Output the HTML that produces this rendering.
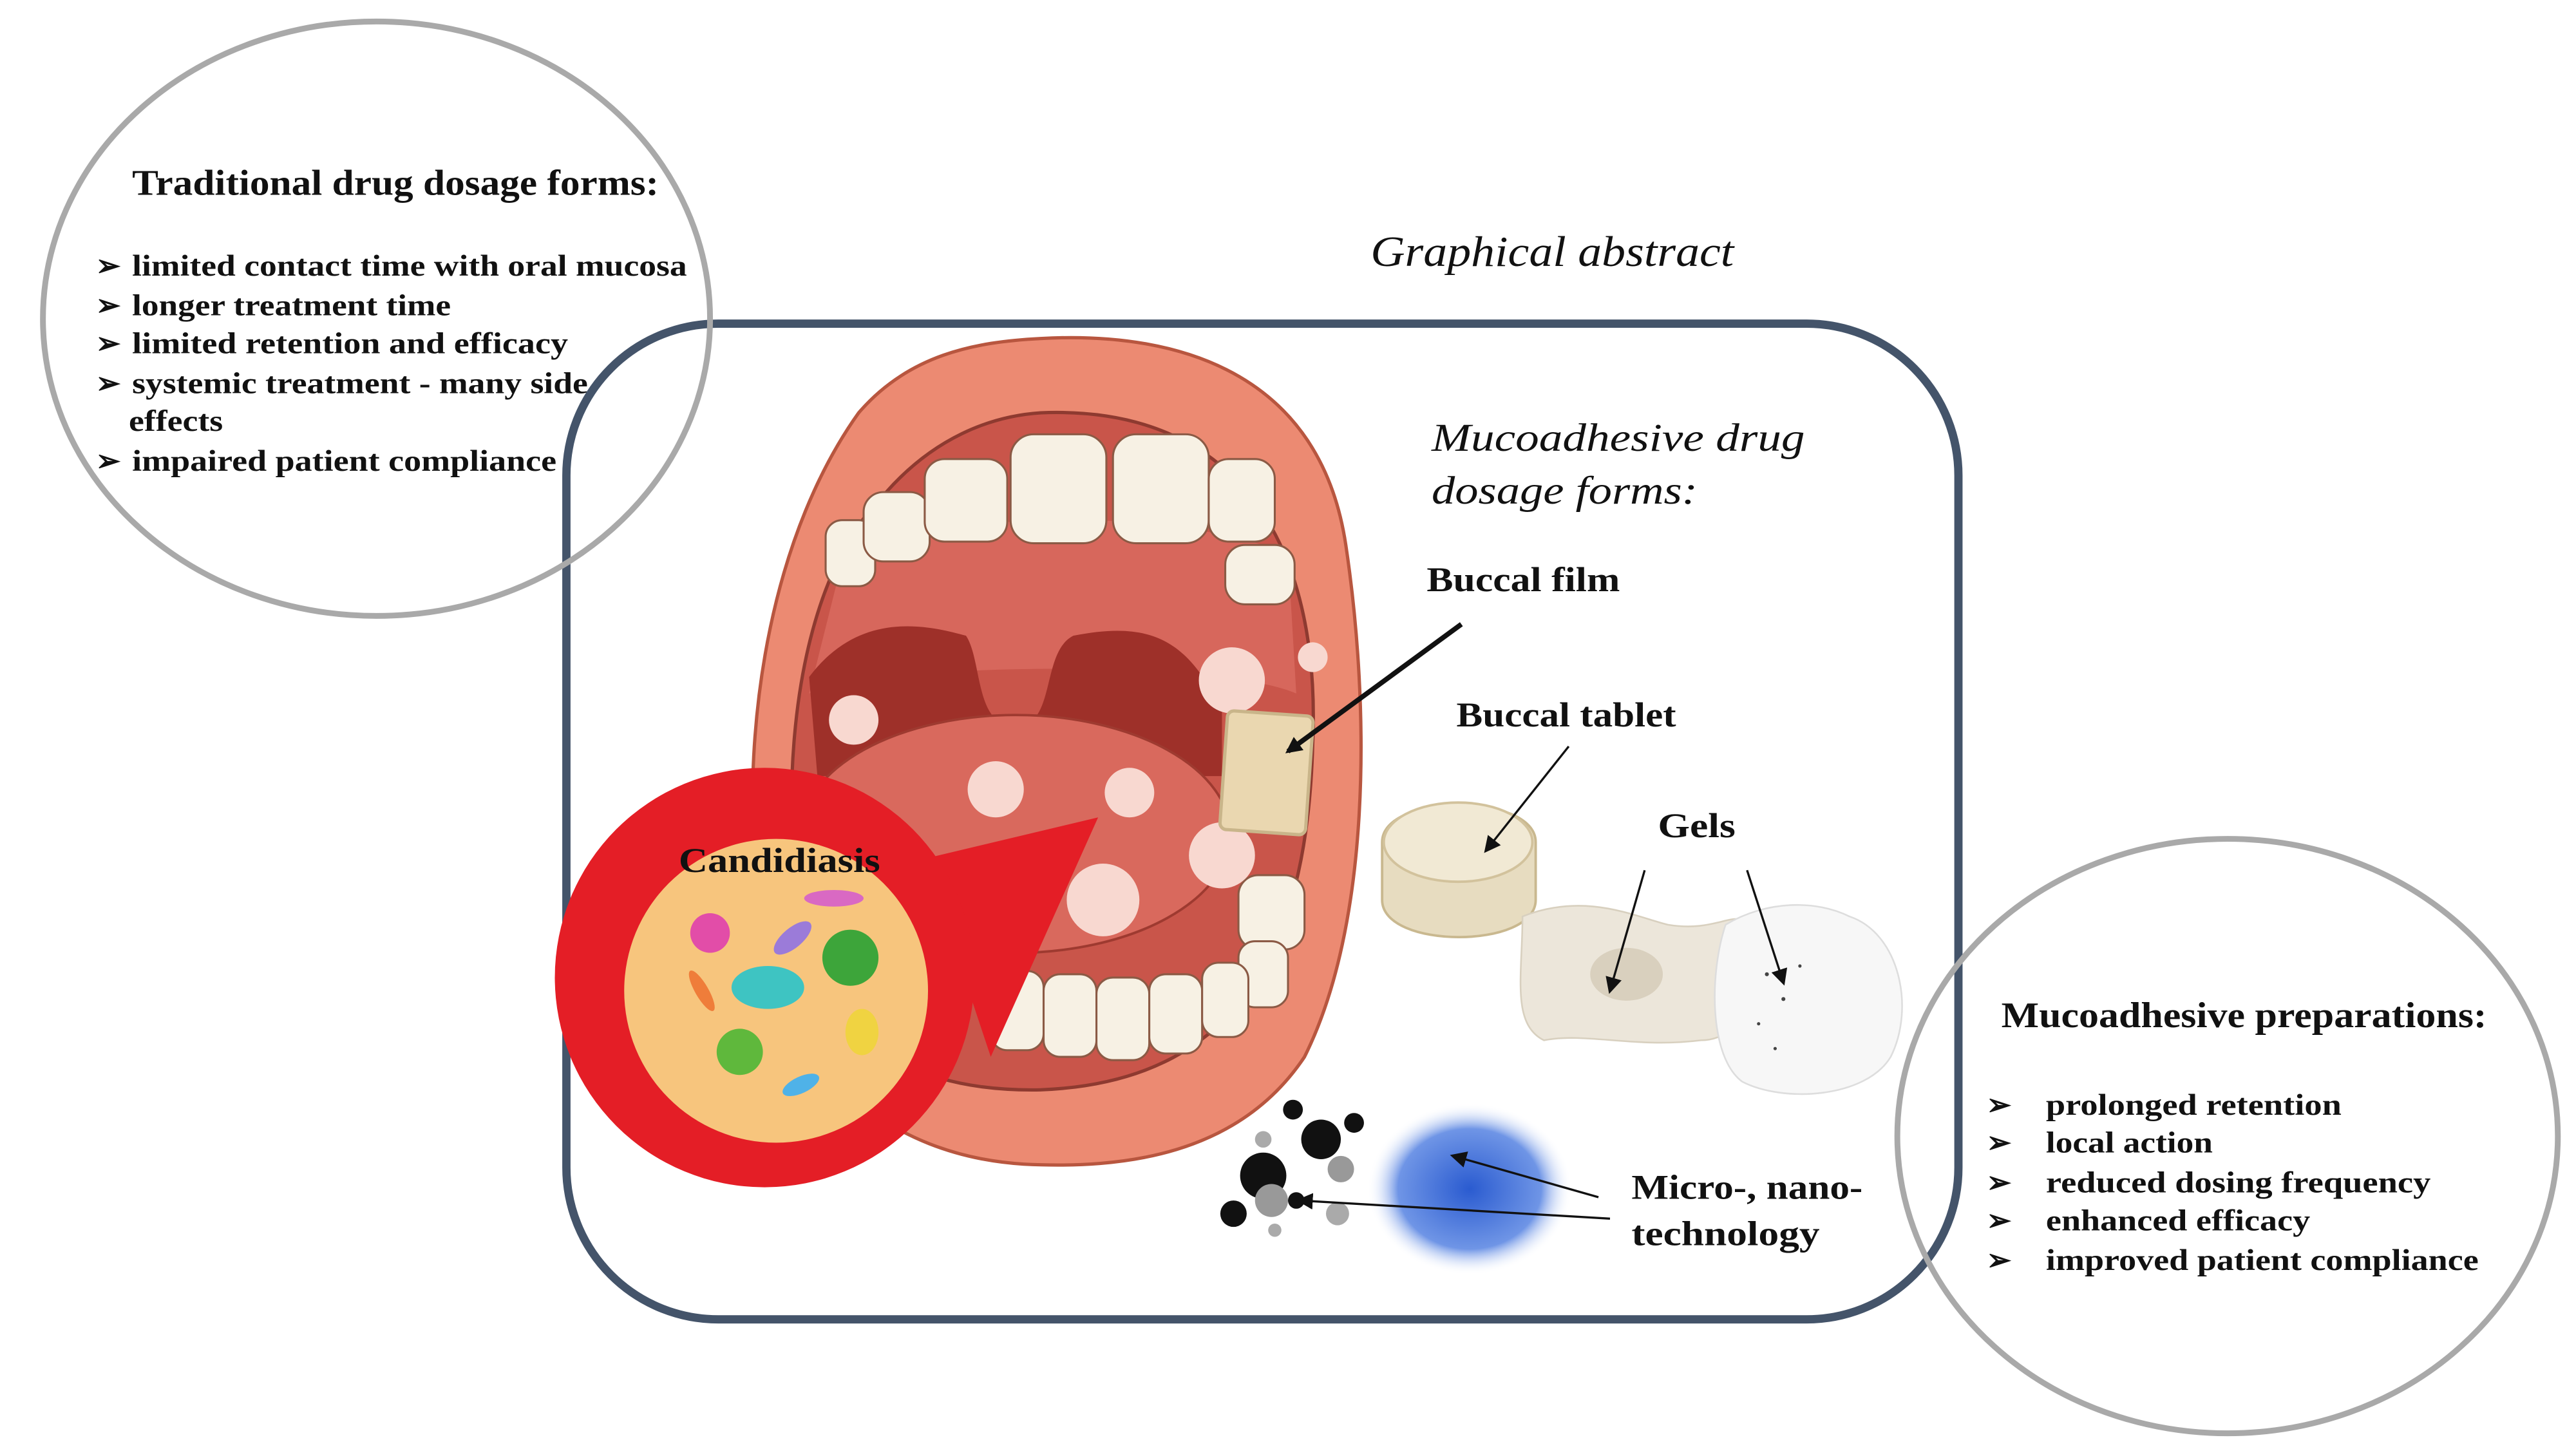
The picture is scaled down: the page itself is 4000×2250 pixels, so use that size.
<!DOCTYPE html>
<html><head><meta charset="utf-8"><style>
html,body{margin:0;padding:0;background:#fff;width:4000px;height:2250px;overflow:hidden}
svg{display:block}
text{font-family:"Liberation Serif",serif;fill:#111}
.b{font-weight:bold}
</style></head><body>
<svg width="4000" height="2250" viewBox="0 0 1560 877.5" xmlns="http://www.w3.org/2000/svg">
<defs>
<marker id="ah" markerWidth="10" markerHeight="10" refX="8" refY="5" orient="auto" markerUnits="userSpaceOnUse"><path d="M0,0 L10,5 L0,10 z" fill="#111"/></marker>
<radialGradient id="bl" cx="50%" cy="50%" r="50%"><stop offset="0" stop-color="#2a5bd0"/><stop offset="0.7" stop-color="#6f95e6"/><stop offset="1" stop-color="#fff" stop-opacity="0"/></radialGradient>
</defs>
<rect x="343" y="196" width="843" height="603" rx="92" fill="#fff" stroke="#44546a" stroke-width="5"/>
<text x="830" y="161" font-size="26" font-style="italic" textLength="220" lengthAdjust="spacingAndGlyphs">Graphical abstract</text>

<!-- mouth -->
<path d="M630,205 C720,200 800,230 815,330 C830,430 830,560 790,640 C750,700 680,708 620,705 C540,700 470,650 458,540 C448,430 470,320 520,250 C550,215 590,207 630,205z" fill="#ec8a72" stroke="#b8563f" stroke-width="2"/>
<path d="M630,250 C750,245 800,330 795,450 C792,560 760,655 630,660 C520,662 485,600 480,520 C475,420 495,340 535,300 C565,265 600,252 630,250z" fill="#c9554a" stroke="#8e3a30" stroke-width="2"/>
<path d="M510,340 C560,310 700,305 780,335 L785,420 C740,400 540,400 490,420z" fill="#d7675c"/>
<path d="M490,410 C520,370 560,378 585,385 C595,400 590,440 615,440 C640,440 630,395 650,385 C700,375 720,390 740,430 L740,470 L495,470z" fill="#9e3029"/>
<ellipse cx="615" cy="505" rx="130" ry="72" fill="#d9695d" stroke="#9e3a30" stroke-width="1.5"/>
<g fill="#f7f1e4" stroke="#8b5a45" stroke-width="1.2">
<rect x="500" y="315" width="30" height="40" rx="10"/>
<rect x="523" y="298" width="40" height="42" rx="12"/>
<rect x="560" y="278" width="50" height="50" rx="12"/>
<rect x="612" y="263" width="58" height="66" rx="14"/>
<rect x="674" y="263" width="58" height="66" rx="14"/>
<rect x="732" y="278" width="40" height="50" rx="12"/>
<rect x="742" y="330" width="42" height="36" rx="12"/>
<rect x="750" y="530" width="40" height="45" rx="12"/>
<rect x="750" y="570" width="30" height="40" rx="10"/>
<rect x="600" y="588" width="32" height="48" rx="10"/>
<rect x="632" y="590" width="32" height="50" rx="10"/>
<rect x="664" y="592" width="32" height="50" rx="10"/>
<rect x="696" y="590" width="32" height="48" rx="10"/>
<rect x="728" y="583" width="28" height="45" rx="10"/>
</g>
<g fill="#f8d8d0">
<circle cx="517" cy="436" r="15"/><circle cx="603" cy="478" r="17"/><circle cx="684" cy="480" r="15"/>
<circle cx="668" cy="545" r="22"/><circle cx="746" cy="412" r="20"/><circle cx="795" cy="398" r="9"/><circle cx="740" cy="518" r="20"/>
</g>
<rect x="741" y="432" width="52" height="72" rx="4" fill="#ead7b0" stroke="#c9b58a" stroke-width="2" transform="rotate(4 767 468)"/>

<path d="M560,520 L665,495 L600,640z" fill="#e41e26"/>
<circle cx="463" cy="592" r="127" fill="#e41e26"/>
<circle cx="470" cy="600" r="92" fill="#f7c57d"/>
<g>
<circle cx="515" cy="580" r="17" fill="#3da53a"/><circle cx="448" cy="637" r="14" fill="#5fb83c"/>
<ellipse cx="465" cy="598" rx="22" ry="13" fill="#3ec4c2"/><circle cx="430" cy="565" r="12" fill="#e24da8"/>
<ellipse cx="480" cy="568" rx="14" ry="6" fill="#9b7bd9" transform="rotate(-40 480 568)"/>
<ellipse cx="505" cy="544" rx="18" ry="5" fill="#d969c3"/>
<ellipse cx="522" cy="625" rx="10" ry="14" fill="#f0d341"/>
<ellipse cx="485" cy="657" rx="12" ry="5" fill="#4fb2e8" transform="rotate(-25 485 657)"/>
<ellipse cx="425" cy="600" rx="4" ry="14" fill="#ef7d3a" transform="rotate(-30 425 600)"/>
</g>
<text x="411" y="528" font-size="21" class="b" textLength="122" lengthAdjust="spacingAndGlyphs">Candidiasis</text>

<text x="867" y="273" font-size="24" font-style="italic" textLength="226" lengthAdjust="spacingAndGlyphs">Mucoadhesive drug</text>
<text x="867" y="305" font-size="24" font-style="italic" textLength="161" lengthAdjust="spacingAndGlyphs">dosage forms:</text>
<text x="864" y="358" font-size="21" class="b" textLength="117" lengthAdjust="spacingAndGlyphs">Buccal film</text>
<text x="882" y="440" font-size="21" class="b" textLength="133" lengthAdjust="spacingAndGlyphs">Buccal tablet</text>
<text x="1004" y="507" font-size="21" class="b" textLength="47" lengthAdjust="spacingAndGlyphs">Gels</text>
<text x="988" y="726" font-size="21" class="b" textLength="140" lengthAdjust="spacingAndGlyphs">Micro-, nano-</text>
<text x="988" y="754" font-size="21" class="b" textLength="114" lengthAdjust="spacingAndGlyphs">technology</text>

<path d="M837,510 C837,480 930,480 930,510 L930,545 C930,575 837,575 837,545z" fill="#e7dcc0" stroke="#c9b88f" stroke-width="1.5"/>
<ellipse cx="883" cy="510" rx="45" ry="24" fill="#f1e9d4" stroke="#d2c29c" stroke-width="1.5"/>
<path d="M922,555 C960,540 990,555 1010,560 C1040,565 1050,550 1060,560 C1070,600 1055,630 1030,630 C990,635 960,625 935,630 C915,620 922,590 922,555z" fill="#ece6da" stroke="#d8d0bf"/>
<ellipse cx="985" cy="590" rx="22" ry="16" fill="#d9d0be"/>
<path d="M1045,560 C1070,545 1100,545 1120,555 C1150,565 1160,610 1145,640 C1130,665 1080,668 1055,655 C1035,640 1035,590 1045,560z" fill="#f7f7f7" stroke="#ddd"/>
<g fill="#444"><circle cx="1070" cy="590" r="1.2"/><circle cx="1080" cy="605" r="1.2"/><circle cx="1065" cy="620" r="1"/><circle cx="1090" cy="585" r="1"/><circle cx="1075" cy="635" r="1"/></g>
<ellipse cx="890" cy="720" rx="62" ry="52" fill="url(#bl)"/>
<g><circle cx="800" cy="690" r="12" fill="#111"/><circle cx="783" cy="672" r="6" fill="#111"/><circle cx="820" cy="680" r="6" fill="#111"/>
<circle cx="765" cy="712" r="14" fill="#111"/><circle cx="747" cy="735" r="8" fill="#111"/><circle cx="770" cy="727" r="10" fill="#999"/>
<circle cx="812" cy="708" r="8" fill="#999"/><circle cx="765" cy="690" r="5" fill="#aaa"/><circle cx="810" cy="735" r="7" fill="#aaa"/>
<circle cx="772" cy="745" r="4" fill="#aaa"/><circle cx="785" cy="727" r="5" fill="#111"/></g>

<g stroke="#111" fill="none" marker-end="url(#ah)">
<line x1="885" y1="378" x2="780" y2="455" stroke-width="3"/>
<line x1="950" y1="452" x2="900" y2="515" stroke-width="1.3"/>
<line x1="996" y1="527" x2="975" y2="600" stroke-width="1.3"/>
<line x1="1058" y1="527" x2="1080" y2="595" stroke-width="1.3"/>
<line x1="968" y1="725" x2="880" y2="700" stroke-width="1.3"/>
<line x1="975" y1="738" x2="787" y2="727" stroke-width="1.3"/>
</g>

<ellipse cx="228" cy="193" rx="202" ry="180" fill="none" stroke="#a9a9a9" stroke-width="3.5"/>
<text x="80" y="118" font-size="22" class="b" textLength="319" lengthAdjust="spacingAndGlyphs">Traditional drug dosage forms:</text>
<g font-size="18" class="b">
<text x="58" y="167">➢</text><text x="80" y="167" class="b" textLength="336" lengthAdjust="spacingAndGlyphs">limited contact time with oral mucosa</text>
<text x="58" y="191">➢</text><text x="80" y="191" class="b" textLength="193" lengthAdjust="spacingAndGlyphs">longer treatment time</text>
<text x="58" y="214">➢</text><text x="80" y="214" class="b" textLength="264" lengthAdjust="spacingAndGlyphs">limited retention and efficacy</text>
<text x="58" y="238">➢</text><text x="80" y="238" class="b" textLength="276" lengthAdjust="spacingAndGlyphs">systemic treatment - many side</text>
<text x="78" y="261" class="b" textLength="57" lengthAdjust="spacingAndGlyphs">effects</text>
<text x="58" y="285">➢</text><text x="80" y="285" class="b" textLength="257" lengthAdjust="spacingAndGlyphs">impaired patient compliance</text>
</g>

<ellipse cx="1349" cy="688" rx="200" ry="180" fill="none" stroke="#a9a9a9" stroke-width="3.5"/>
<text x="1212" y="622" font-size="22" class="b" textLength="294" lengthAdjust="spacingAndGlyphs">Mucoadhesive preparations:</text>
<g font-size="18" class="b">
<text x="1203" y="675">➢</text><text x="1239" y="675" class="b" textLength="179" lengthAdjust="spacingAndGlyphs">prolonged retention</text>
<text x="1203" y="698">➢</text><text x="1239" y="698" class="b" textLength="101" lengthAdjust="spacingAndGlyphs">local action</text>
<text x="1203" y="722">➢</text><text x="1239" y="722" class="b" textLength="233" lengthAdjust="spacingAndGlyphs">reduced dosing frequency</text>
<text x="1203" y="745">➢</text><text x="1239" y="745" class="b" textLength="160" lengthAdjust="spacingAndGlyphs">enhanced efficacy</text>
<text x="1203" y="769">➢</text><text x="1239" y="769" class="b" textLength="262" lengthAdjust="spacingAndGlyphs">improved patient compliance</text>
</g>
</svg>
</body></html>
